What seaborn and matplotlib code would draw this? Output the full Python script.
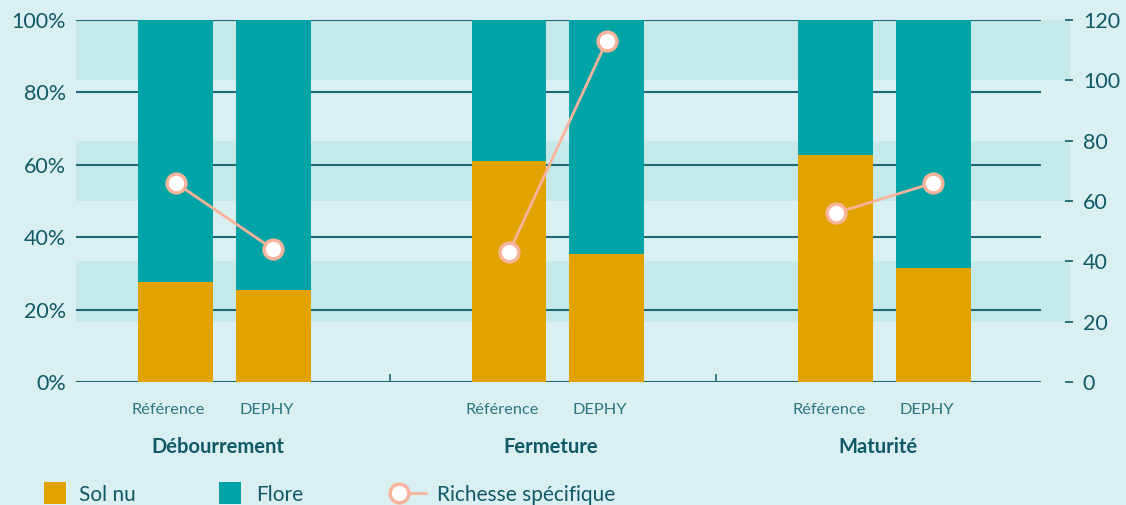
import matplotlib
matplotlib.use("Agg")
import matplotlib.pyplot as plt
from matplotlib.patches import Rectangle
from matplotlib.lines import Line2D
from matplotlib.transforms import ScaledTranslation
import seaborn as sns
import pandas as pd
import numpy as np

# data
stades = ['Débourrement', 'Fermeture', 'Maturité']
modalites = ['Référence', 'DEPHY']
sol_nu = [27.6, 25.4, 61.0, 35.4, 62.7, 31.5]      # % sol nu
richesse = [66, 44, 43, 113, 56, 66]              # richesse spécifique (axe droit)
left_ticks = [0, 20, 40, 60, 80, 100]
right_ticks = [0, 20, 40, 60, 80, 100, 120]
bands = [(20, 40), (60, 80), (100, 120)]          # bandes (axe droit)

BG = '#daeff1'
BAND = '#c5e8e8'
GOLD = '#e2a300'
TEAL = '#00a4a7'
SALMON = '#f8b49b'
DARK = '#0f5a66'
LIGHT = '#2b7882'
GRID = '#1d6a75'

sns.set_theme(style='white')
plt.rcParams['font.family'] = ['Lato', 'DejaVu Sans']

W, H = 1126, 505
fig = plt.figure(figsize=(W / 100, H / 100), dpi=100, facecolor=BG)
ax = fig.add_axes([76 / W, 1 - 382 / H, (1041 - 76) / W, (382 - 20) / H])
ax.set_facecolor(BG)

# group centres (slightly uneven in the original) and bar offsets
centres = np.array([0, 1.01, 2.0])
offset = 0.148
df = pd.DataFrame({
    'stade': np.repeat(stades, 2),
    'modalite': modalites * 3,
    'sol_nu': sol_nu,
    'richesse': richesse,
})
df['pos'] = np.repeat(centres, 2) + np.tile([-offset, offset], len(stades))
df['total'] = 100.0

# background bands
for lo, hi in bands:
    ax.axhspan(lo * 100 / 120, hi * 100 / 120, xmin=0, xmax=1.03, color=BAND, lw=0,
               zorder=0.1, clip_on=False)

# stacked bars: flore (full) then sol nu on top
sns.barplot(data=df, x='pos', y='total', native_scale=True, orient='x', width=0.767,
            color=TEAL, saturation=1, errorbar=None, linewidth=0, ax=ax)
sns.barplot(data=df, x='pos', y='sol_nu', native_scale=True, orient='x', width=0.767,
            color=GOLD, saturation=1, errorbar=None, linewidth=0, ax=ax)

ax.set_xlim(-0.45, 2.474)
ax.set_ylim(0, 100)
ax.set_xlabel('')
ax.set_ylabel('')
for s in ax.spines.values():
    s.set_visible(False)
ax.set_axisbelow(True)
ax.yaxis.grid(True, color=GRID, lw=1.5)
ax.xaxis.grid(False)
ax.set_yticks(left_ticks)
ax.set_yticklabels([f'{t}%' for t in left_ticks], fontsize=15.5, color=DARK)
ax.tick_params(axis='y', length=0, pad=7)

ax.set_xticks(df['pos'])
ax.set_xticklabels(df['modalite'], fontsize=11.8, color=LIGHT)
ax.tick_params(axis='x', which='major', length=0, pad=15)
ax.set_xticks([0.5, 1.49], minor=True)
ax.tick_params(axis='x', which='minor', bottom=True, direction='in', length=5.8,
               width=1.2, color=GRID)
shift = ScaledTranslation(-7 / 100, 0, fig.dpi_scale_trans)
for lab in ax.get_xticklabels():
    lab.set_transform(lab.get_transform() + shift)

for c, st in zip(centres, stades):
    ax.text(c, -0.18, st, transform=ax.get_xaxis_transform() + shift, ha='center',
            va='center', fontsize=14.5, fontweight='bold', color=DARK)

# right axis: richesse spécifique
ax2 = ax.twinx()
ax2.patch.set_visible(False)
sns.lineplot(data=df, x='pos', y='richesse', units='stade', estimator=None, sort=True,
             color=SALMON, lw=2, marker='o', markersize=13.5, markerfacecolor='white',
             markeredgecolor=SALMON, markeredgewidth=2.5, legend=False, ax=ax2)
ax2.set_ylim(0, 120)
ax2.set_ylabel('')
ax2.set_xlabel('')
for s in ax2.spines.values():
    s.set_visible(False)
ax2.spines['right'].set_position(('outward', 17.3))
ax2.set_yticks(right_ticks)
ax2.set_yticklabels([str(t) for t in right_ticks], fontsize=15.5, color=DARK)
ax2.tick_params(axis='y', right=True, length=5.8, width=1.3, color=GRID, pad=7)
ax2.grid(False)

# legend at the bottom
ty = 1 - 501 / H
fig.patches.append(Rectangle((44 / W, 1 - 504 / H), 22 / W, 22 / H, transform=fig.transFigure,
                             color=GOLD, lw=0))
fig.text(79 / W, ty, 'Sol nu', fontsize=15, color=DARK, va='baseline')
fig.patches.append(Rectangle((219 / W, 1 - 504 / H), 22 / W, 22 / H, transform=fig.transFigure,
                             color=TEAL, lw=0))
fig.text(256 / W, ty, 'Flore', fontsize=15, color=DARK, va='baseline')
fig.add_artist(Line2D([398.5 / W, 426 / W], [1 - 493 / H] * 2, transform=fig.transFigure,
                      color=SALMON, lw=2))
fig.add_artist(Line2D([398.5 / W], [1 - 493 / H], transform=fig.transFigure, marker='o',
                      markersize=13.5, markerfacecolor='white', markeredgecolor=SALMON,
                      markeredgewidth=2.5, lw=0))
fig.text(437 / W, ty, 'Richesse spécifique', fontsize=15, color=DARK, va='baseline')

fig.savefig('out.png', dpi=100, facecolor=BG)
